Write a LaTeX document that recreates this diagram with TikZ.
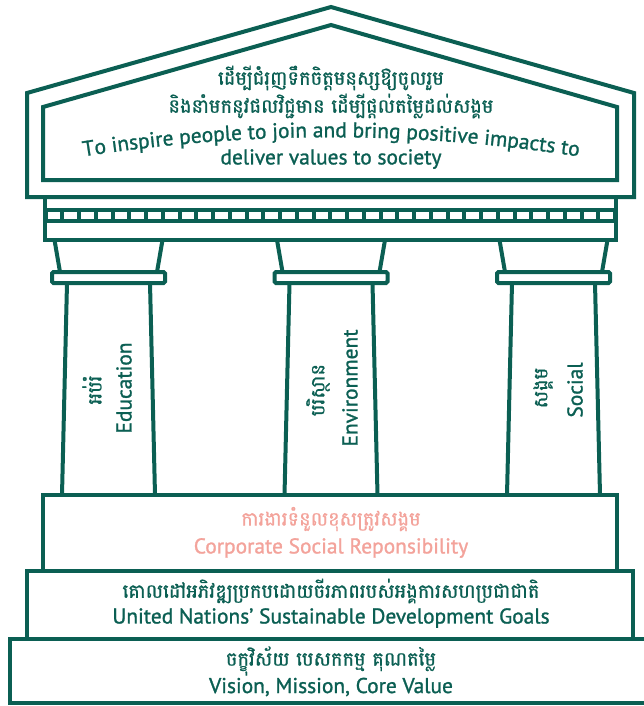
\documentclass[tikz,border=0pt]{standalone}
\usepackage{fontspec}
\setmainfont{PT Sans}[FakeBold=1.2]
\newfontfamily\khfont{Battambang}[Script=Khmer,FakeBold=1.0]
\usetikzlibrary{decorations.text}
\definecolor{dgreen}{HTML}{0B5F53}
\definecolor{cpink}{HTML}{F3A39B}
\begin{document}
\begin{tikzpicture}[x=1bp,y=-1bp,
  outline/.style={draw=dgreen, line width=4bp},
  kh/.style={font=\khfont\fontsize{19.5}{22}\selectfont, text=dgreen, inner sep=0pt},
  en/.style={font=\fontsize{21.5}{24}\selectfont, text=dgreen, inner sep=0pt},
  pinktext/.style={text=cpink}]
\useasboundingbox (0,0) rectangle (644,706);
% entablature
\draw[outline] (45,197) rectangle (616,240);
\fill[dgreen] (45,208) rectangle (616,223);
\begin{scope}
  \clip (47,211) rectangle (614,220);
  \foreach \i in {0,...,34} {
    \fill[white] ({47.5+\i*16.75},212) rectangle ({47.5+\i*16.75+12.8},219.3);
  }
\end{scope}
% roof
\draw[outline] (27,197) -- (27,93) -- (331,7) -- (634,93) -- (634,197) -- cycle;
\draw[outline] (43,180) -- (43,107) -- (331,25) -- (617,107) -- (617,180) -- cycle;
% pillars
\foreach \c in {108.5,331,553.5} {
  \draw[outline] ({\c-54},240) -- ({\c-48.5},272);
  \draw[outline] ({\c+54},240) -- ({\c+48.5},272);
  \draw[outline, rounded corners=1.5bp] ({\c-56.5},272) rectangle ({\c+56.5},283);
  \draw[outline] ({\c-41.5},283) -- ({\c-46.5},495);
  \draw[outline] ({\c+41.5},283) -- ({\c+46.5},495);
}
% steps
\draw[outline] (43,495) rectangle (617,571);
\draw[outline] (27,571) rectangle (633,639);
\draw[outline] (10,639) rectangle (651,703);
% roof texts
\node[kh] (r1) at (331,78) {ដើម្បីជំរុញទឹកចិត្តមនុស្សឱ្យចូលរួម};
\node[kh] (r2) at (331,106) {និងនាំមកនូវផលវិជ្ជមាន ដើម្បីផ្តល់តម្លៃដល់សង្គម};
\path[decorate, decoration={text along path, text align=center, text color=dgreen,
  text={|\fontsize{21.5}{24}\selectfont|To inspire people to join and bring positive impacts to}}]
  (80,157) .. controls (246.3,130.7) and (415.7,130.7) .. (582,157);
\node[en] (r4) at (331,159) {deliver values to society};
% pillar texts
\node[kh, rotate=90] (p1k) at (92,390) {អប់រំ};
\node[en, rotate=90] (p1e) at (124,388) {Education};
\node[kh, rotate=90] (p2k) at (318,390) {បរិស្ថាន};
\node[en, rotate=90] (p2e) at (350,388) {Environment};
\node[kh, rotate=90] (p3k) at (543,388) {សង្គម};
\node[en, rotate=90] (p3e) at (575,390) {Social};
% step texts
\node[kh, pinktext] (c1) at (331,519) {ការងារទំនួលខុសត្រូវសង្គម};
\node[en, pinktext] (c2) at (331,548) {Corporate Social Reponsibility};
\node[kh] (s1) at (331,591) {គោលដៅអភិវឌ្ឍប្រកបដោយចីរភាពរបស់អង្គការសហប្រជាជាតិ};
\node[en] (s2) at (331,618) {United Nations’ Sustainable Development Goals};
\node[kh] (b1) at (331,661) {ចក្ខុវិស័យ បេសកកម្ម គុណតម្លៃ};
\node[en] (b2) at (331,687) {Vision, Mission, Core Value};
\end{tikzpicture}
\end{document}
